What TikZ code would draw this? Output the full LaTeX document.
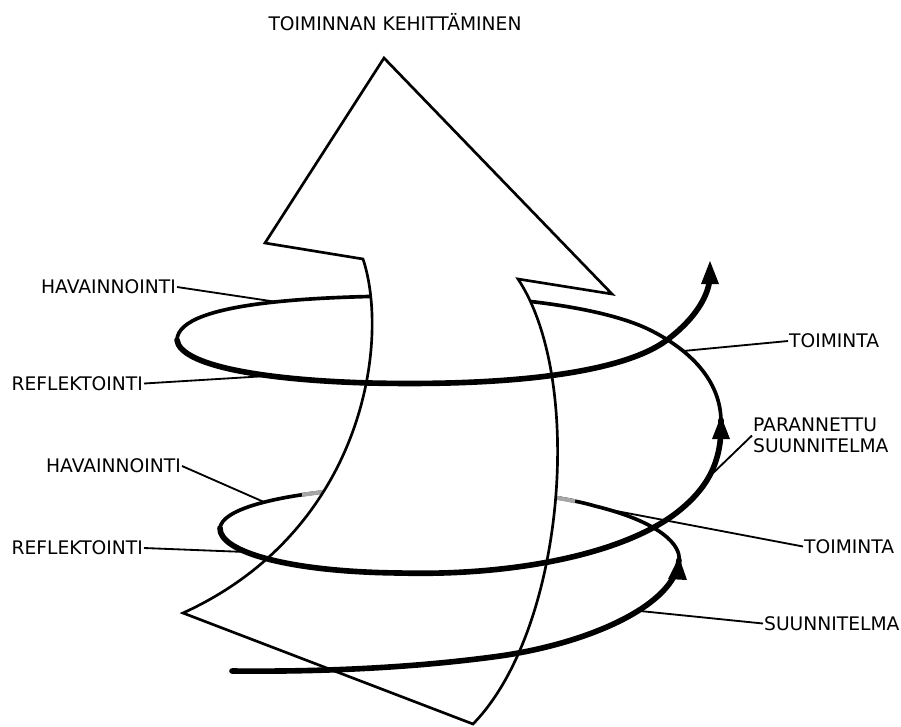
\documentclass[tikz,border=0pt]{standalone}
\usepackage{fontspec}
\setmainfont{DejaVu Sans}

\tikzset{
  arrowbody/.style = {line width = 1.9pt, line join = miter, fill = white},
  spiralback/.style = {line width = 2.6pt, line cap = round},
  spiralfade/.style = {line width = 2.9pt, draw = gray!70},
  spiralfront/.style = {line width = 4pt, line cap = round},
  spiralhead/.style = {fill = black},
  leader/.style = {line width = 1.3pt},
  lbl/.style = {inner sep = 0.6pt, font = \fontsize{13.3pt}{15pt}\selectfont}
}

\begin{document}
\begin{tikzpicture}[x = 0.025cm, y = -0.025cm]
  \useasboundingbox (0,0) rectangle (901,726);
  % back of the spiral, partly hidden behind the arrow
  \draw [spiralback] (679,560) .. controls (681,545) and (660,522) .. (595,506)
      .. controls (540,490) and (400,478) .. (323,492)
      .. controls (270,498) and (222,510) .. (220,528);
  \draw [spiralfade] (575,501.3) .. controls (568,500) and (562,498.7) .. (553,497);
  \draw [spiralfade] (323,492) .. controls (316,492.8) and (310,493.7) .. (302,494.8);
  \draw [spiralback] (721,420) .. controls (720,380) and (690,350) .. (650,330)
      .. controls (610,310) and (530,298) .. (450,296)
      .. controls (330,295) and (178,300) .. (177,340);
  % the big arrow
  \draw [arrowbody] (384,58) -- (265,243) -- (363,259)
      .. controls (390,340) and (365,530) .. (183,613) -- (473,724)
      .. controls (565,630) and (585,380) .. (518,279) -- (612,294) -- cycle;
  % front of the spiral
  \draw [spiralfront] (232,671) .. controls (330,672) and (420,667) .. (500,656)
      .. controls (590,643) and (675,605) .. (679,560);
  \draw [spiralfront] (220,528) .. controls (219,552) and (290,572) .. (400,573)
      .. controls (510,576) and (625,555) .. (680,510)
      .. controls (713,483) and (722,455) .. (721,420);
  \draw [spiralfront] (177,340) .. controls (180,365) and (260,380) .. (370,383)
      .. controls (500,386) and (620,375) .. (667,340)
      .. controls (700,315) and (711,290) .. (710,272);
  % heads on the spiral
  \fill [spiralhead] (679,557) -- (668,579) -- (687,580) -- cycle;
  \fill [spiralhead] (721,416) -- (712,439) -- (730,439) -- cycle;
  \fill [spiralhead] (710,261) -- (701,284) -- (719,284) -- cycle;

  % labels
  \node [lbl, anchor = base] (title) at (395,30) {TOIMINNAN KEHITTÄMINEN};
  \node [lbl, anchor = east] (hav1) at (177,287) {HAVAINNOINTI};
  \node [lbl, anchor = east] (ref1) at (144,383.5) {REFLEKTOINTI};
  \node [lbl, anchor = east] (hav2) at (182,466) {HAVAINNOINTI};
  \node [lbl, anchor = east] (ref2) at (144,548) {REFLEKTOINTI};
  \node [lbl, anchor = west] (toi1) at (788,341) {TOIMINTA};
  \node [lbl, anchor = west, align = left] (par) at (752,435.5)
    {PARANNETTU\\SUUNNITELMA};
  \node [lbl, anchor = west] (toi2) at (803,546.5) {TOIMINTA};
  \node [lbl, anchor = west] (suu) at (763,623.5) {SUUNNITELMA};

  \coordinate (h1) at (277,302);
  \coordinate (r1) at (267,376);
  \coordinate (h2) at (264,502);
  \coordinate (r2) at (246,552);
  \coordinate (t1) at (683,351);
  \coordinate (p1) at (709,477);
  \coordinate (t2) at (611,510);
  \coordinate (s1) at (640,611);
  \draw [leader] (hav1.east) -- (h1);
  \draw [leader] (ref1.east) -- (r1);
  \draw [leader] (hav2.east) -- (h2);
  \draw [leader] (ref2.east) -- (r2);
  \draw [leader] (toi1.west) -- (t1);
  \draw [leader] (par.west) -- (p1);
  \draw [leader] (toi2.west) -- (t2);
  \draw [leader] (suu.west) -- (s1);
\end{tikzpicture}
\end{document}
